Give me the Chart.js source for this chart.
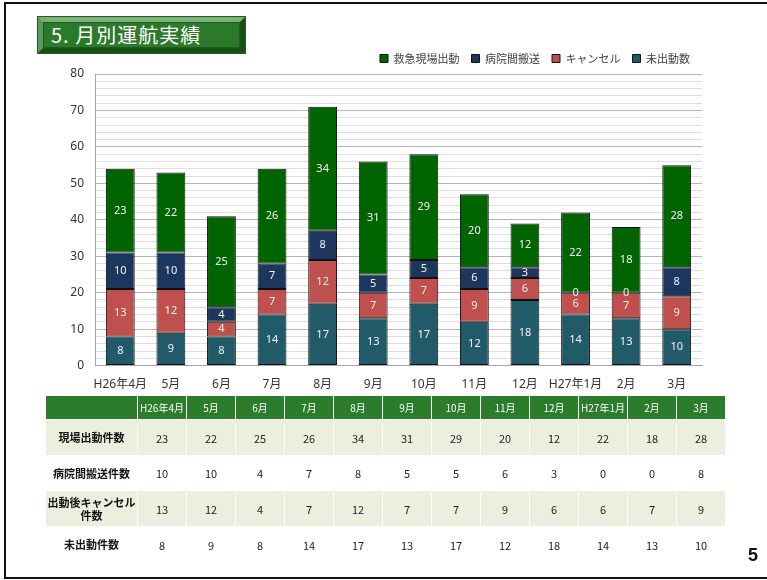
<!DOCTYPE html>
<html><head><meta charset="utf-8">
<script src="https://cdn.jsdelivr.net/npm/chart.js@4.4.0/dist/chart.umd.min.js"></script>
<style>
html,body{margin:0;padding:0;width:767px;height:580px;overflow:hidden;background:#fff;font-family:'Noto Sans','Noto Sans CJK JP',sans-serif;}
#frame{position:absolute;left:4px;top:2px;width:800px;height:573px;border:2px solid #111;box-sizing:content-box;}
#title{position:absolute;left:38px;top:17px;width:207px;height:36px;box-sizing:border-box;background:#2a7a2a;border-style:solid;border-width:5px;border-color:#79b179 #165016 #165016 #5a9a5a;outline:1px solid #245c24;color:#fff;font-size:20px;line-height:25px;padding-left:8px;letter-spacing:1px;font-family:'Noto Sans CJK JP',sans-serif;box-shadow:inset 0 0 0 1px #1d5a1d;}
#wrap{position:absolute;left:0;top:0;width:767px;height:409px;}
table{position:absolute;left:45px;top:395px;width:681px;border-collapse:collapse;table-layout:fixed;font-family:'Noto Sans CJK JP',sans-serif;}
td,th{border:1px solid #fff;text-align:center;padding:0;font-size:11px;color:#222;}
th{background:#2b7d2b;color:#fff;font-weight:normal;font-size:10px;height:23px;}
td.lab{font-weight:bold;color:#111;font-size:11px;line-height:13px;}
tr.odd td{background:#ebf0de;}
#pg{position:absolute;left:748px;top:545px;font:bold 18px 'Liberation Sans',Arial,sans-serif;color:#111;}
</style></head>
<body>
<div id="frame"></div>
<div id="title">5. 月別運航実績</div>
<div id="wrap"><canvas id="c" width="767" height="409"></canvas></div>
<table id="tbl"></table>
<div id="pg">5</div>
<script>
const categories = ['H26年4月','5月','6月','7月','8月','9月','10月','11月','12月','H27年1月','2月','3月'];
const seriesNames = ['救急現場出動','病院間搬送','キャンセル','未出動数'];
const rowLabels = ['現場出動件数','病院間搬送件数','出動後キャンセル<br>件数','未出動件数'];
const genba = [23,22,25,26,34,31,29,20,12,22,18,28];
const byoin = [10,10,4,7,8,5,5,6,3,0,0,8];
const cancel = [13,12,4,7,12,7,7,9,6,6,7,9];
const mishutsu = [8,9,8,14,17,13,17,12,18,14,13,10];
const colors = ['#006400','#1c365e','#c0504d','#215a68'];

// table
const tbl = document.getElementById('tbl');
let html = '<colgroup><col style="width:92px">' + categories.map(()=>'<col>').join('') + '</colgroup>';
html += '<tr><th></th>' + categories.map(c=>'<th>'+c+'</th>').join('') + '</tr>';
const rows = [genba, byoin, cancel, mishutsu];
const heights = [36,35,36,36];
rows.forEach((r,i)=>{
  html += '<tr class="'+(i%2===0?'odd':'even')+'" style="height:'+heights[i]+'px"><td class="lab">'+rowLabels[i]+'</td>' + r.map(v=>'<td>'+v+'</td>').join('') + '</tr>';
});
tbl.innerHTML = html;

const labelPlugin = {
  id:'barLabels',
  afterDatasetsDraw(chart){
    const ctx = chart.ctx;
    ctx.save();
    ctx.font = '11px "Noto Sans", sans-serif';
    ctx.fillStyle = '#f4f4f4';
    ctx.textAlign = 'center';
    ctx.textBaseline = 'middle';
    chart.data.datasets.forEach((ds,di)=>{
      const meta = chart.getDatasetMeta(di);
      meta.data.forEach((bar,i)=>{
        const y = (bar.y + bar.base)/2;
        ctx.fillText(String(ds.data[i]), bar.x, y);
      });
    });
    ctx.restore();
  }
};

new Chart(document.getElementById('c'), {
  type:'bar',
  data:{
    labels: categories,
    datasets:[
      {label:seriesNames[3], data:mishutsu, backgroundColor:colors[3]},
      {label:seriesNames[2], data:cancel, backgroundColor:colors[2]},
      {label:seriesNames[1], data:byoin, backgroundColor:colors[1]},
      {label:seriesNames[0], data:genba, backgroundColor:colors[0]}
    ].map(d=>Object.assign(d,{borderColor:'#111',borderWidth:1,borderSkipped:false,categoryPercentage:1,barPercentage:0.57}))
  },
  options:{
    responsive:false, animation:false, devicePixelRatio:1,
    layout:{padding:{left:40,right:65,top:41,bottom:5}},
    plugins:{
      legend:{position:'top',align:'end',reverse:true,
        labels:{boxWidth:8,boxHeight:8,padding:12,color:'#404040',font:{size:11,family:"'Noto Sans CJK JP',sans-serif"}}},
      tooltip:{enabled:false}
    },
    scales:{
      x:{stacked:true,grid:{display:false,drawTicks:false},border:{display:true,color:'#a6a6a6'},
        ticks:{padding:12,color:'#333',font:{size:12,family:"'Noto Sans','Noto Sans CJK JP',sans-serif"},autoSkip:false,maxRotation:0}},
      y:{stacked:true,min:0,max:80,
        afterFit(s){s.width=55;},
        grid:{drawTicks:false,color:c=>c.tick && c.tick.value%10===0?'#b5b5b5':'#dedede'},
        border:{display:true,color:'#a6a6a6'},
        ticks:{stepSize:2,autoSkip:false,padding:11,color:'#333',font:{size:12,family:"'Noto Sans',sans-serif"},
          callback:v=>v%10===0?v:''}}
    }
  },
  plugins:[labelPlugin]
});
</script>
</body></html>
